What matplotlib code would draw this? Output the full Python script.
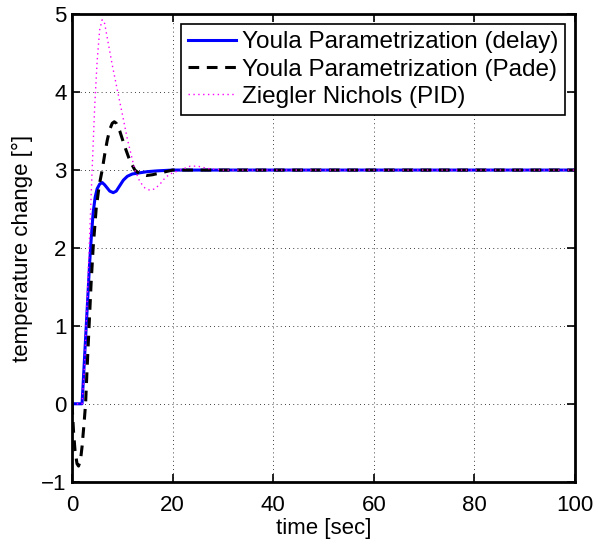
import numpy as np
import matplotlib
matplotlib.use('Agg')
from matplotlib import pyplot as plt

# step responses
t_delay = [0, 2.0, 2.5, 3.0, 3.5, 3.8, 4.2, 4.6, 5.0, 5.5, 6.0, 6.5, 7.0, 7.5, 8.2,
           8.8, 9.5, 10.2, 11.0, 12.0, 13.0, 14.0, 15.0, 17.0, 20.0, 30.0, 100.0]
y_delay = [0, 0, 0.6, 1.2, 1.8, 2.1, 2.45, 2.65, 2.76, 2.82, 2.84, 2.81, 2.77, 2.73, 2.71,
           2.73, 2.8, 2.87, 2.92, 2.95, 2.96, 2.97, 2.98, 2.99, 3.0, 3.0, 3.0]

t_pade = [0, 0.3, 0.6, 1.0, 1.3, 1.7, 2.0, 2.4, 2.7, 3.0, 3.4, 3.8, 4.2, 4.8, 5.4, 6.0,
          6.5, 7.0, 7.5, 8.0, 8.4, 8.8, 9.5, 10.5, 11.5, 12.5, 13.5, 14.8, 16.0, 18.0,
          20.0, 30.0, 100.0]
y_pade = [0, -0.35, -0.6, -0.77, -0.8, -0.72, -0.55, -0.25, 0, 0.45, 1.0, 1.55, 2.0, 2.5,
          2.8, 3.0, 3.2, 3.38, 3.52, 3.6, 3.62, 3.6, 3.5, 3.3, 3.12, 3.0, 2.95, 2.93,
          2.94, 2.97, 3.0, 3.0, 3.0]

t_pid = [0, 2.0, 2.5, 3.0, 3.5, 4.0, 4.5, 5.0, 5.5, 6.0, 6.5, 7.0, 8.0, 9.1, 10.0,
         11.0, 12.5, 13.5, 14.5, 15.5, 16.5, 17.5, 18.5, 19.5, 21.5, 23.5, 25.0, 27.0,
         30.0, 100.0]
y_pid = [0, 0, 0.5, 1.3, 2.15, 3.0, 3.8, 4.4, 4.8, 4.93, 4.88, 4.7, 4.35, 4.0, 3.72,
         3.4, 3.0, 2.85, 2.77, 2.74, 2.76, 2.82, 2.9, 2.95, 3.0, 3.05, 3.05, 3.02,
         3.0, 3.0]

labels = ['Youla Parametrization (delay)', 'Youla Parametrization (Pade)',
          'Ziegler Nichols (PID)']

plt.rcParams['font.family'] = ['Liberation Sans', 'DejaVu Sans']

fig = plt.figure(figsize=(5.96, 5.40), dpi=100)
ax = fig.add_axes([0.1208, 0.108, 0.844, 0.8656])

ax.plot(t_delay, y_delay, color='#0000ff', lw=2.2, label=labels[0])
ax.plot(t_pade, y_pade, color='k', lw=2.2, ls=(0, (3.5, 2.5)), label=labels[1])
ax.plot(t_pid, y_pid, color='#ff00ff', lw=1.0, ls=(0, (1, 2.5)), label=labels[2])

ax.set_xlim(0, 100)
ax.set_ylim(-1, 5)
ax.set_xticks(np.arange(0, 101, 20))
ax.set_yticks(np.arange(-1, 6, 1))
ax.yaxis.set_major_formatter(matplotlib.ticker.FuncFormatter(
    lambda v, p: ('\u2212%d' % -v) if v < 0 else '%d' % v))
ax.grid(True, color='k', ls=(0, (1, 4)), lw=0.6)
ax.tick_params(direction='in', top=True, right=True, labelsize=16, length=6, width=1.2)
ax.tick_params(axis='x', pad=9.5)
ax.tick_params(axis='y', pad=4)
for s in ax.spines.values():
    s.set_linewidth(2)

ax.set_xlabel('time [sec]', fontsize=16, labelpad=1.5)
ax.set_ylabel('temperature change [°]', fontsize=16, labelpad=6)

leg = ax.legend(loc='upper right', fontsize=17.5, fancybox=False, framealpha=1,
                edgecolor='k', handlelength=1.95, borderaxespad=0.4,
                borderpad=0.3, labelspacing=0.22, handletextpad=0.25)
leg.get_frame().set_linewidth(1.2)

fig.savefig('out.png', dpi=100)
